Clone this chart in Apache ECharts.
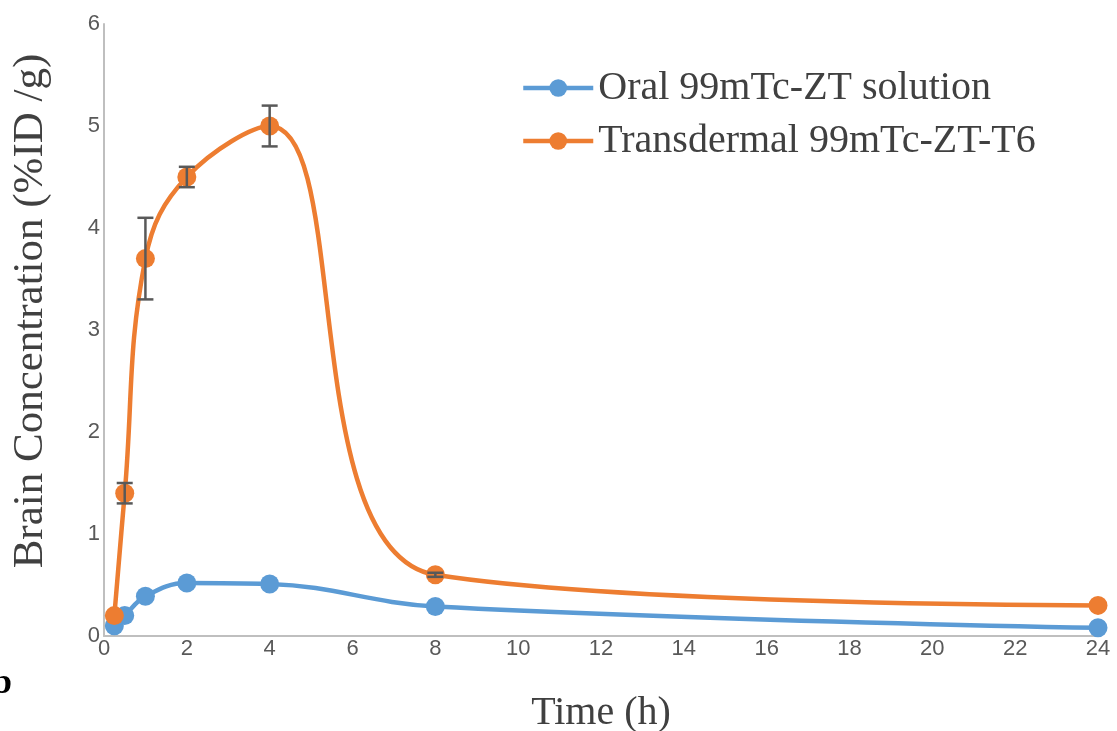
<!DOCTYPE html>
<html><head><meta charset="utf-8">
<script src="https://cdn.jsdelivr.net/npm/echarts@6/dist/echarts.min.js"></script>
<style>html,body{margin:0;padding:0;background:#fff}#c{width:1117px;height:731px}</style>
</head><body><div id="c"></div>
<script>
const times = [0.25, 0.5, 1, 2, 4, 8, 24];
const oralValues = [0.1, 0.2, 0.39, 0.52, 0.51, 0.29, 0.08];
const transValues = [0.2, 1.4, 3.7, 4.5, 5.0, 0.6, 0.3];
const transErrLow = [null, 1.3, 3.3, 4.4, 4.8, 0.58, null];
const transErrHigh = [null, 1.5, 4.1, 4.6, 5.2, 0.62, null];
const seriesNames = ['Oral 99mTc-ZT solution', 'Transdermal 99mTc-ZT-T6'];

const errData = times.map((t, i) => [t, transErrLow[i], transErrHigh[i]]).filter(d => d[1] != null);

const chart = echarts.init(document.getElementById('c'));
chart.setOption({
  animation: false,
  grid: {left: 104, right: 19, top: 24, bottom: 95, containLabel: false, outerBoundsMode: 'none'},
  legend: {
    orient: 'vertical', left: 516, top: 63, itemGap: 13,
    itemWidth: 70, itemHeight: 22,
    lineStyle: {width: 4.5},
    textStyle: {fontFamily: 'Liberation Serif', fontSize: 40, color: '#404040', padding: [0, 0, 0, 0]},
    data: seriesNames
  },
  xAxis: {
    type: 'value', min: 0, max: 24, interval: 2,
    name: 'Time (h)', nameLocation: 'middle', nameGap: 57,
    nameTextStyle: {fontFamily: 'Liberation Serif', fontSize: 40, color: '#404040'},
    axisLine: {lineStyle: {color: '#bfbfbf', width: 2}},
    axisTick: {show: false},
    splitLine: {show: false},
    axisLabel: {fontFamily: 'Liberation Sans', fontSize: 22, color: '#595959', margin: 2}
  },
  yAxis: {
    type: 'value', min: 0, max: 6, interval: 1,
    name: 'Brain Concentration (%ID /g)', nameLocation: 'middle', nameGap: 52,
    nameTextStyle: {fontFamily: 'Liberation Serif', fontSize: 43, color: '#404040', padding: [0, 0, 0, 38]},
    axisLine: {show: true, lineStyle: {color: '#bfbfbf', width: 2}},
    axisTick: {show: false},
    splitLine: {show: false},
    axisLabel: {fontFamily: 'Liberation Sans', fontSize: 22, color: '#595959', margin: 4}
  },
  graphic: [{type: 'text', left: -8, top: 666, style: {text: 'b', font: 'bold 36px "Liberation Serif"', fill: '#000'}}],
  series: [
    {
      name: seriesNames[0], type: 'line', smooth: 0.4,
      data: times.map((t, i) => [t, oralValues[i]]),
      symbol: 'circle', symbolSize: 19,
      lineStyle: {color: '#5B9BD5', width: 4.5},
      itemStyle: {color: '#5B9BD5'}, z: 2
    },
    {
      name: seriesNames[1], type: 'line', smooth: 0.4,
      data: times.map((t, i) => [t, transValues[i]]),
      symbol: 'circle', symbolSize: 19,
      lineStyle: {color: '#ED7D31', width: 4.5},
      itemStyle: {color: '#ED7D31'}, z: 3
    },
    {
      type: 'custom', name: 'err', z: 4,
      data: errData,
      renderItem: function (params, api) {
        const x = api.value(0);
        const lo = api.coord([x, api.value(1)]);
        const hi = api.coord([x, api.value(2)]);
        const w = 8;
        const st = {stroke: '#595959', lineWidth: 2.5};
        return {type: 'group', children: [
          {type: 'line', shape: {x1: lo[0], y1: lo[1], x2: hi[0], y2: hi[1]}, style: st},
          {type: 'line', shape: {x1: lo[0]-w, y1: lo[1], x2: lo[0]+w, y2: lo[1]}, style: st},
          {type: 'line', shape: {x1: hi[0]-w, y1: hi[1], x2: hi[0]+w, y2: hi[1]}, style: st}
        ]};
      }
    }
  ]
});
</script></body></html>
